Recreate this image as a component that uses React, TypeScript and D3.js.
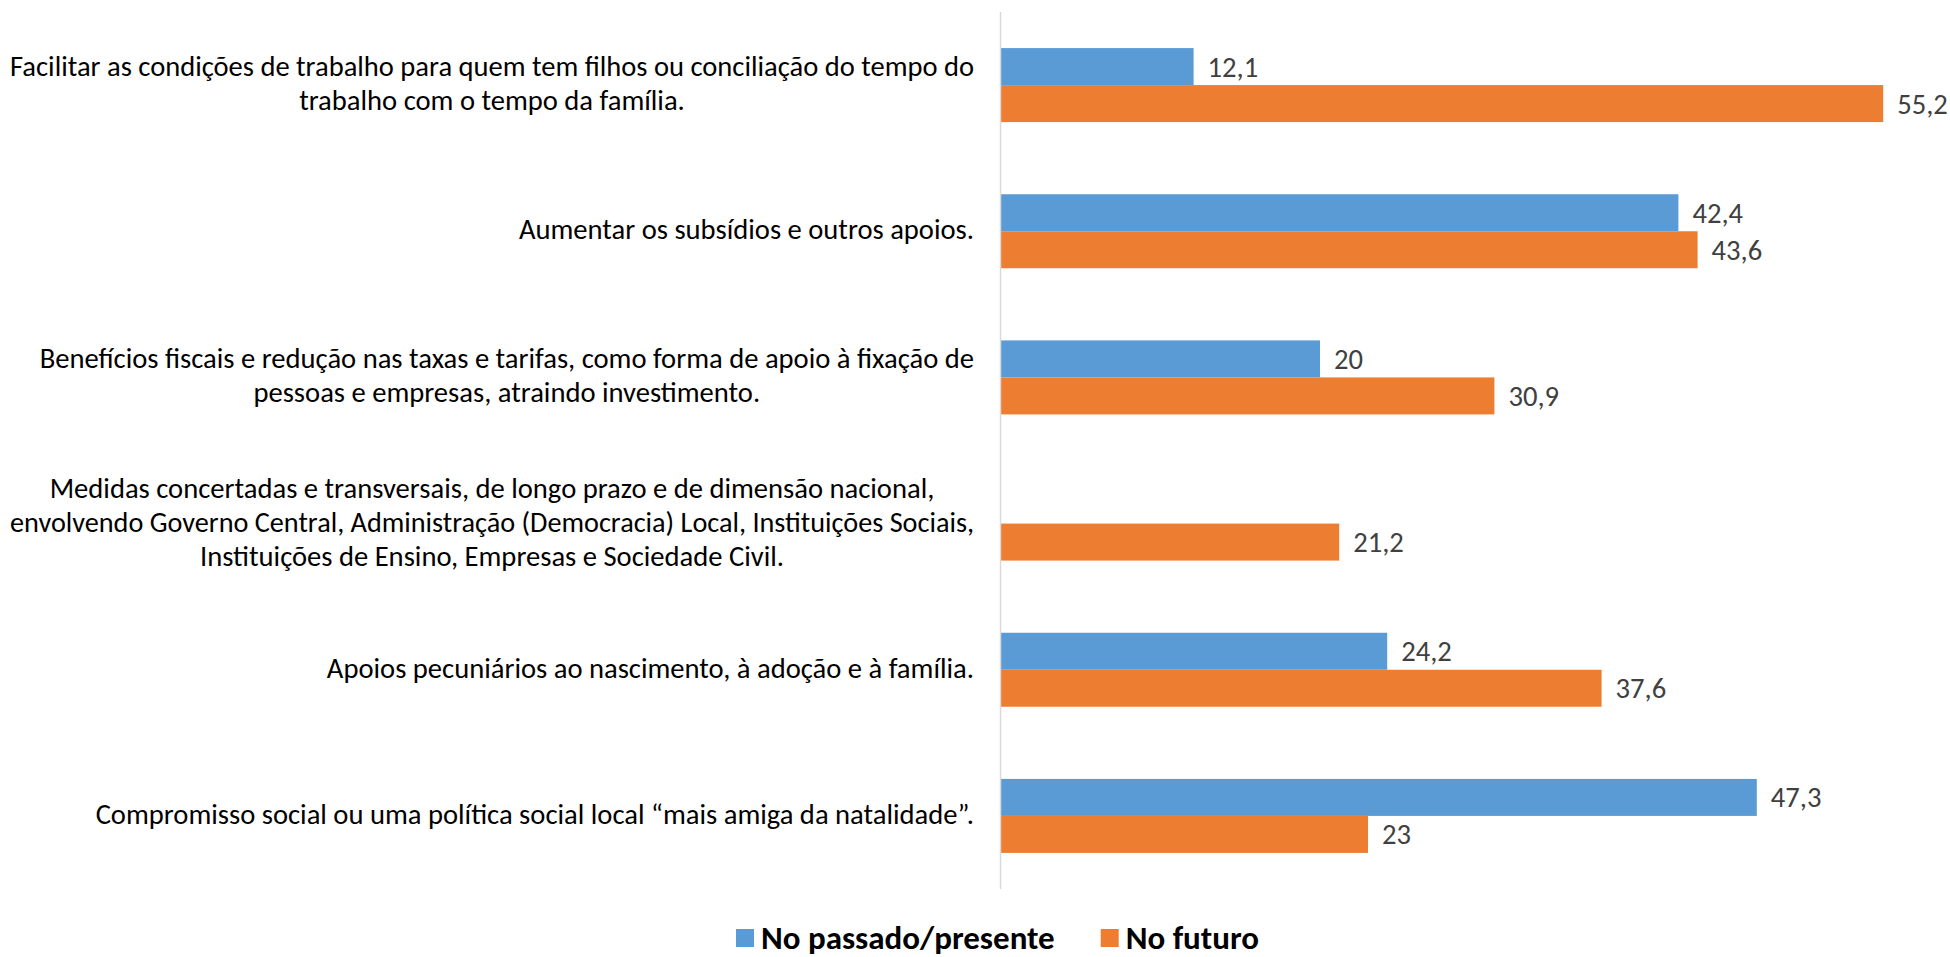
import React, { useEffect, useRef } from "react";
import * as d3 from "d3";

const categories: string[][] = [
  ["Facilitar as condições de trabalho para quem tem filhos ou conciliação do tempo do", "trabalho com o tempo da família."],
  ["Aumentar os subsídios e outros apoios."],
  ["Benefícios fiscais e redução nas taxas e tarifas, como forma de apoio à fixação de", "pessoas e empresas, atraindo investimento."],
  ["Medidas concertadas e transversais, de longo prazo e de dimensão nacional,", "envolvendo Governo Central, Administração (Democracia) Local, Instituições Sociais,", "Instituições de Ensino, Empresas e Sociedade Civil."],
  ["Apoios pecuniários ao nascimento, à adoção e à família."],
  ["Compromisso social ou uma política social local “mais amiga da natalidade”."],
];
const pastValues: (number | null)[] = [12.1, 42.4, 20, null, 24.2, 47.3];
const futureValues: (number | null)[] = [55.2, 43.6, 30.9, 21.2, 37.6, 23];
const seriesNames = ["No passado/presente", "No futuro"];
const seriesColors = ["#5B9BD5", "#ED7D31"];

const W = 1950, H = 957;
const FONT = "Carlito, Calibri, 'Liberation Sans Narrow', Lato, sans-serif";

export default function App() {
  const ref = useRef<SVGSVGElement>(null);
  useEffect(() => {
    const svg = d3.select(ref.current);
    svg.selectAll("*").remove();
    const x0 = 1000;
    const x = d3.scaleLinear().domain([0, 60]).range([x0, x0 + 960]);
    const y = d3.scaleBand<number>().domain(d3.range(categories.length)).range([12, 889]).paddingInner(0).paddingOuter(0);
    const barH = 37;

    const series = [pastValues, futureValues];
    series.forEach((vals, si) => {
      vals.forEach((v, i) => {
        if (v == null) return;
        const cy = y(i)! + y.bandwidth() / 2;
        const top = si === 0 ? cy - barH : cy;
        svg.append("rect").attr("x", x(0)).attr("y", top).attr("width", x(v) - x(0)).attr("height", barH).attr("fill", seriesColors[si]);
        svg.append("text").attr("x", x(v) + 14).attr("y", top + barH / 2).attr("dy", "0.35em")
          .attr("font-family", FONT).attr("font-size", 28.6).attr("fill", "#404040").text(String(v).replace(".", ","));
      });
    });

    svg.append("line").attr("x1", x0 + 0.5).attr("x2", x0 + 0.5).attr("y1", 12).attr("y2", 889).attr("stroke", "#D9D9D9").attr("stroke-width", 1.5);

    const rightEdge = 974;
    const maxLine = 964;
    const lh = 34;
    categories.forEach((lines, i) => {
      const cy = y(i)! + y.bandwidth() / 2 - 2;
      const g = svg.append("g");
      const texts = lines.map((ln, k) =>
        g.append("text").attr("text-anchor", "middle").attr("font-family", FONT).attr("font-size", 28.6).attr("fill", "#000")
          .attr("y", cy + (k - (lines.length - 1) / 2) * lh).attr("dy", "0.35em").text(ln)
      );
      let maxW = 0;
      texts.forEach((t) => {
        const w = (t.node() as SVGTextElement).getComputedTextLength();
        if (w > maxLine) {
          t.attr("textLength", maxLine).attr("lengthAdjust", "spacingAndGlyphs");
        }
        maxW = Math.max(maxW, Math.min(w, maxLine));
      });
      texts.forEach((t) => t.attr("x", rightEdge - maxW / 2));
    });

    // legend
    const baseline = 949;
    const lg = svg.append("g");
    let cx = 736;
    seriesNames.forEach((name, si) => {
      lg.append("rect").attr("x", cx).attr("y", baseline - 20).attr("width", 18).attr("height", 18).attr("fill", seriesColors[si]);
      const t = lg.append("text").attr("x", cx + 25).attr("y", baseline).attr("font-family", FONT)
        .attr("font-size", 33).attr("font-weight", "bold").attr("fill", "#000").text(name);
      cx += 25 + (t.node() as SVGTextElement).getComputedTextLength() + 46;
    });
  }, []);
  return <svg ref={ref} width={W} height={H} style={{ position: "absolute", left: 0, top: 0, background: "#fff" }} />;
}
